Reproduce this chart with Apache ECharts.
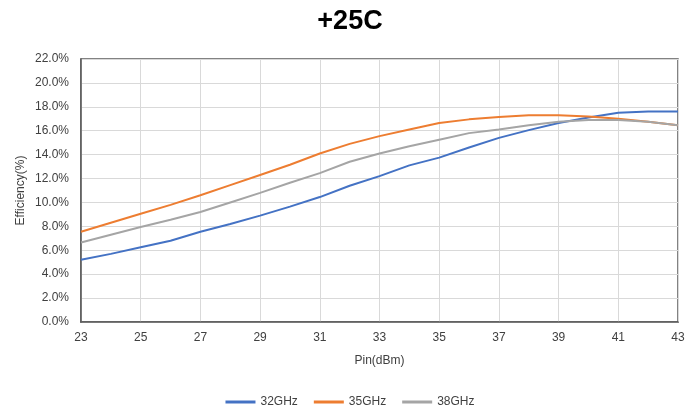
<!DOCTYPE html>
<html><head><meta charset="utf-8">
<script src="https://cdn.jsdelivr.net/npm/echarts@6/dist/echarts.min.js"></script>
<style>html,body{margin:0;padding:0;background:#fff}#c{width:700px;height:417px}</style>
</head><body><div id="c"></div>
<script>
const pin = [23,24,25,26,27,28,29,30,31,32,33,34,35,36,37,38,39,40,41,42,43];
const eff32 = [5.2,5.7,6.25,6.8,7.55,8.2,8.9,9.65,10.45,11.4,12.2,13.1,13.75,14.6,15.4,16.05,16.65,17.1,17.5,17.6,17.6];
const eff35 = [7.55,8.3,9.05,9.8,10.6,11.45,12.3,13.15,14.1,14.9,15.55,16.1,16.65,16.95,17.15,17.3,17.3,17.2,17.0,16.75,16.45];
const eff38 = [6.65,7.3,7.95,8.55,9.2,10.0,10.8,11.65,12.45,13.4,14.1,14.7,15.25,15.8,16.1,16.45,16.75,16.9,16.9,16.75,16.45];
const seriesNames = ['32GHz','35GHz','38GHz'];
const colors = ['#4472C4','#ED7D31','#A5A5A5'];
const all = [eff32, eff35, eff38];

const chart = echarts.init(document.getElementById('c'));
chart.setOption({
  animation:false,
  title:{text:'+25C',left:'center',top:3,textStyle:{fontFamily:'Liberation Sans',fontSize:27,fontWeight:'bold',color:'#000'}},
  legend:{bottom:4,left:'center',itemWidth:30,itemHeight:3,itemGap:16,icon:'rect',
    textStyle:{fontFamily:'Liberation Sans',fontSize:12,color:'#404040'},data:seriesNames},
  grid:{left:81,right:22,top:59,bottom:95,show:true,borderColor:'#595959',borderWidth:1.5},
  xAxis:{type:'value',min:23,max:43,interval:2,name:'Pin(dBm)',nameLocation:'middle',nameGap:33,
    nameTextStyle:{fontFamily:'Liberation Sans',fontSize:12,color:'#404040'},
    axisLine:{show:true,lineStyle:{color:'#595959',width:1.5}},axisTick:{show:false},
    axisLabel:{fontFamily:'Liberation Sans',fontSize:12,color:'#404040',margin:10},
    splitLine:{show:true,lineStyle:{color:'#d9d9d9',width:1}}},
  yAxis:{type:'value',min:0,max:22,interval:2,name:'Efficiency(%)',nameLocation:'middle',nameGap:54,nameMoveOverlap:false,
    nameTextStyle:{fontFamily:'Liberation Sans',fontSize:12,color:'#404040'},
    axisLine:{show:true,lineStyle:{color:'#595959',width:1.5}},axisTick:{show:false},
    axisLabel:{fontFamily:'Liberation Sans',fontSize:12,color:'#404040',margin:12,formatter:v=>v.toFixed(1)+'%'},
    splitLine:{show:true,lineStyle:{color:'#d9d9d9',width:1}}},
  series: all.map((d,i)=>({name:seriesNames[i],type:'line',showSymbol:false,symbol:'none',
    data:pin.map((p,j)=>[p,d[j]]),lineStyle:{color:colors[i],width:2},itemStyle:{color:colors[i]}}))
});
</script></body></html>
